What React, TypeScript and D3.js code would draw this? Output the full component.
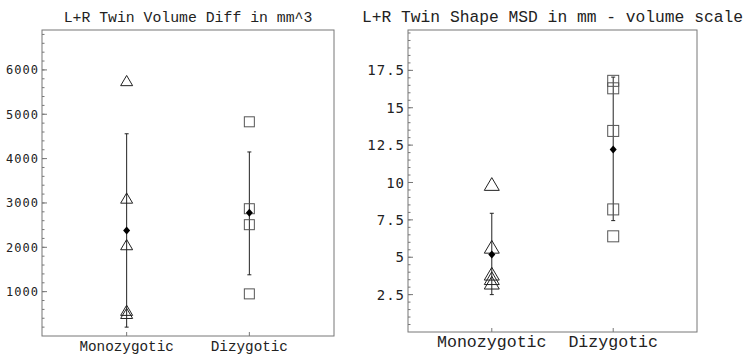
import React from 'react'
import * as d3 from 'd3'

// group labels
const groups = ['Monozygotic', 'Dizygotic']

// volume difference panel (mm^3)
const volMono = [5760, 3110, 2060, 580, 510]
const volDizy = [4830, 2870, 2510, 950]
const volMean = [2380, 2780]
const volLow = [200, 1380]
const volHigh = [4560, 4150]
const volTicks = [1000, 2000, 3000, 4000, 5000, 6000]

// shape MSD panel (mm)
const msdMono = [9.9, 5.7, 3.9, 3.6, 3.3]
const msdDizy = [16.8, 16.3, 13.45, 8.2, 6.4]
const msdMean = [5.18, 12.2]
const msdLow = [2.5, 7.45]
const msdHigh = [7.94, 17.05]
const msdTicks = [2.5, 5, 7.5, 10, 12.5, 15, 17.5]

type PanelProps = {
    title: string
    left: number
    right: number
    top: number
    bottom: number
    yMax: number
    ticks: number[]
    minorStep: number
    mono: number[]
    dizy: number[]
    mean: number[]
    low: number[]
    high: number[]
    titleSize: number
    tickSize: number
    catSize: number
    tri: number
    sq: number
    fmt: (v: number) => string
}

function Panel(p: PanelProps) {
    const x = d3.scaleLinear().domain([0.31, 2.69]).range([p.left, p.right])
    const y = d3.scaleLinear().domain([0, p.yMax]).range([p.bottom, p.top])
    const minors = d3.range(p.minorStep, p.yMax, p.minorStep)
    const frame = '#777'
    const ink = '#222'

    const triPath = (cx: number, cy: number) => {
        const w = p.tri, h = p.tri * 0.85
        return `M${cx},${cy - h / 2}L${cx + w / 2},${cy + h / 2}L${cx - w / 2},${cy + h / 2}Z`
    }

    return (
        <g>
            <text x={(p.left + p.right) / 2} y={p.top - 8} textAnchor="middle"
                fontFamily="Liberation Mono, monospace" fontSize={p.titleSize} fill={ink}>{p.title}</text>
            <rect x={p.left} y={p.top} width={p.right - p.left} height={p.bottom - p.top}
                fill="none" stroke={frame} strokeWidth={1} />
            {minors.map((v, i) => (
                <line key={'m' + i} x1={p.left} x2={p.left + 2.5} y1={y(v)} y2={y(v)} stroke={frame} />
            ))}
            {p.ticks.map(v => (
                <g key={'t' + v}>
                    <line x1={p.left} x2={p.left + 5} y1={y(v)} y2={y(v)} stroke={frame} />
                    <text x={p.left - 3} y={y(v)} dy="0.36em" textAnchor="end"
                        fontFamily="DejaVu Sans Mono, monospace" fontSize={p.tickSize}
                        letterSpacing={1} fill={ink}>{p.fmt(v)}</text>
                </g>
            ))}
            {groups.map((g, i) => (
                <g key={g}>
                    <line x1={x(i + 1)} x2={x(i + 1)} y1={p.bottom} y2={p.bottom - 4} stroke={frame} />
                    <text x={x(i + 1)} y={p.bottom + 15} textAnchor="middle"
                        fontFamily="Liberation Mono, monospace" fontSize={p.catSize} fill={ink}>{g}</text>
                    <line x1={x(i + 1)} x2={x(i + 1)} y1={y(p.low[i])} y2={y(p.high[i])} stroke={ink} />
                    <line x1={x(i + 1) - 2} x2={x(i + 1) + 2} y1={y(p.low[i])} y2={y(p.low[i])} stroke={ink} />
                    <line x1={x(i + 1) - 2} x2={x(i + 1) + 2} y1={y(p.high[i])} y2={y(p.high[i])} stroke={ink} />
                </g>
            ))}
            {p.mono.map((v, i) => (
                <path key={'a' + i} d={triPath(x(1), y(v))} fill="none" stroke={ink} strokeWidth={1} />
            ))}
            {p.dizy.map((v, i) => (
                <rect key={'s' + i} x={x(2) - p.sq / 2} y={y(v) - p.sq / 2} width={p.sq} height={p.sq}
                    fill="none" stroke="#555" strokeWidth={1} />
            ))}
            {p.mean.map((v, i) => (
                <path key={'d' + i}
                    d={`M${x(i + 1)},${y(v) - 4}L${x(i + 1) + 3.5},${y(v)}L${x(i + 1)},${y(v) + 4}L${x(i + 1) - 3.5},${y(v)}Z`}
                    fill="#000" />
            ))}
        </g>
    )
}

export default function App() {
    return (
        <div style={{ position: 'fixed', left: 0, top: 0 }}>
            <svg width={751} height={354} style={{ display: 'block', background: '#fff' }}>
                <Panel title="L+R Twin Volume Diff in mm^3" left={42} right={334} top={30} bottom={336}
                    yMax={6900} ticks={volTicks} minorStep={200}
                    mono={volMono} dizy={volDizy} mean={volMean} low={volLow} high={volHigh}
                    titleSize={14.8} tickSize={12} catSize={14.3} tri={12} sq={10}
                    fmt={v => String(v)} />
                <Panel title="L+R Twin Shape MSD in mm - volume scale" left={408} right={697} top={30} bottom={332}
                    yMax={20.2} ticks={msdTicks} minorStep={0.5}
                    mono={msdMono} dizy={msdDizy} mean={msdMean} low={msdLow} high={msdHigh}
                    titleSize={16.3} tickSize={14} catSize={16.6} tri={15} sq={11}
                    fmt={v => String(v)} />
            </svg>
        </div>
    )
}
